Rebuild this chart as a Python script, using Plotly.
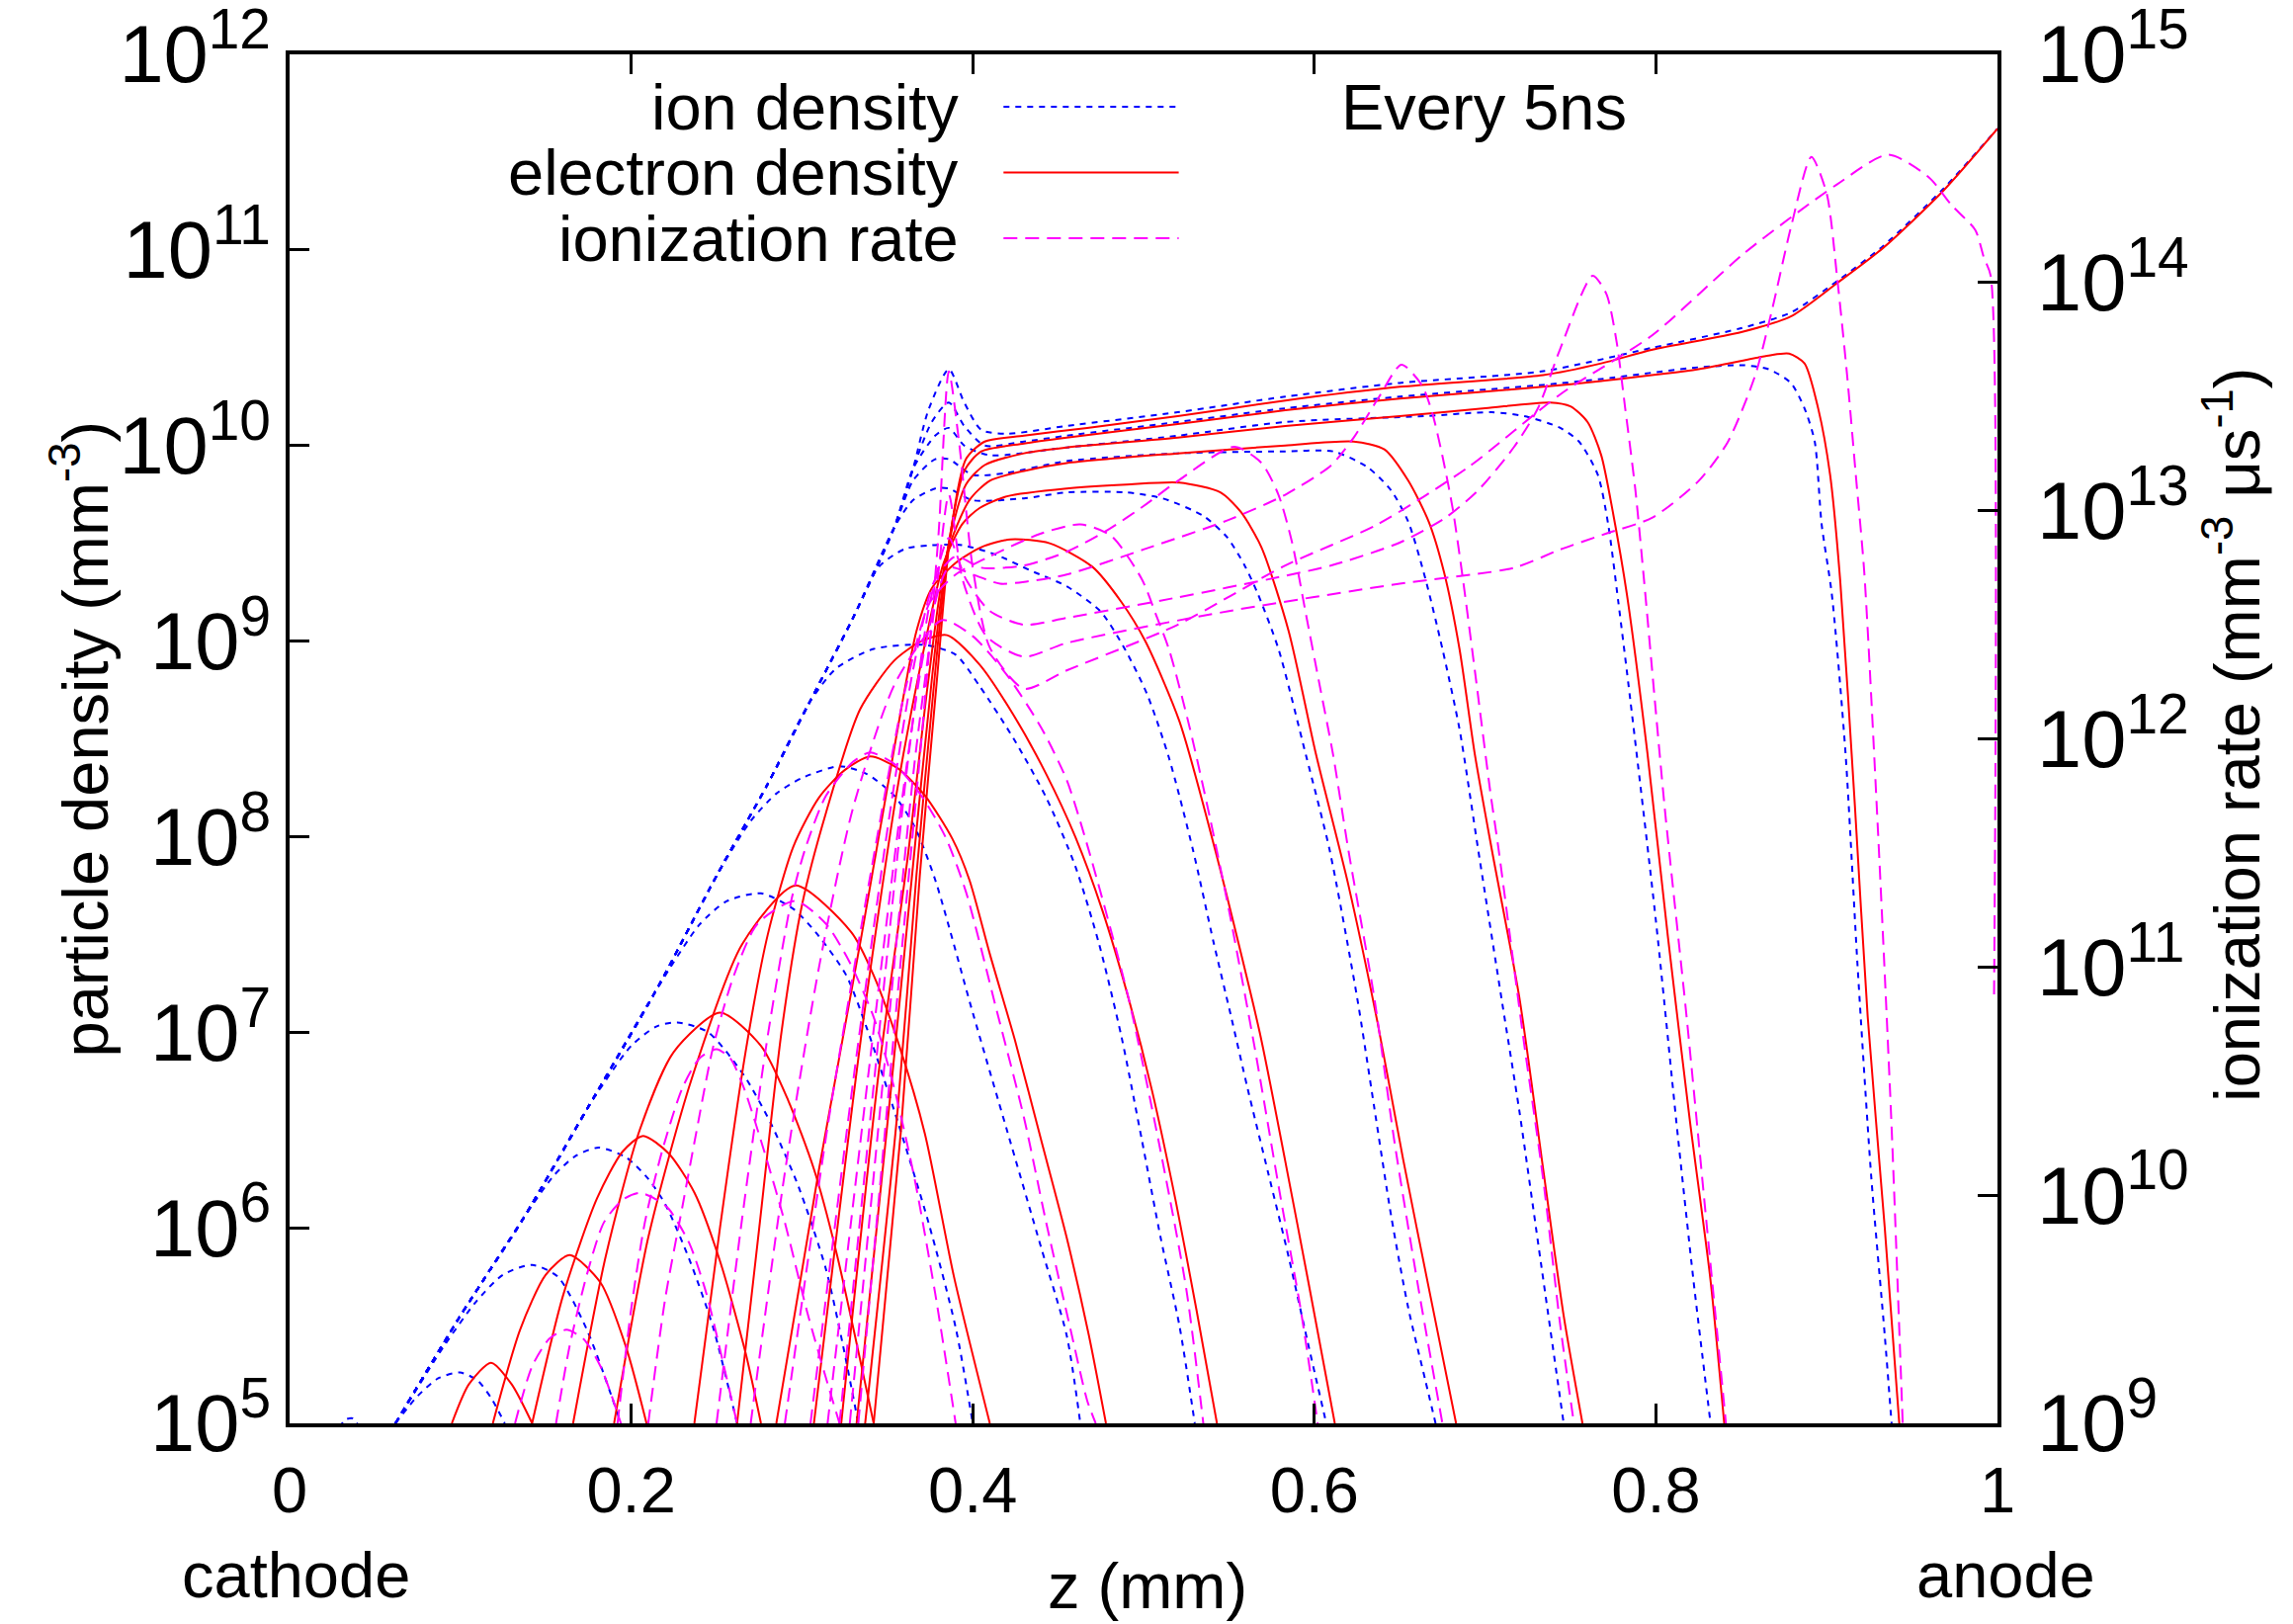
import plotly.graph_objects as go

# ---------------- data: (z in mm, log10 value) ----------------
# snapshots every 5 ns
times_ns = [5, 10, 15, 20, 25, 30, 35, 40, 45, 50, 55, 60, 65]

# electron density (mm^-3), log10
electron_05 = [(0.095,5.0),(0.105,5.2),(0.118,5.31),(0.130,5.2),(0.142,5.0)]
electron_10 = [(0.119,5.0),(0.135,5.48),(0.150,5.76),(0.164,5.86),(0.182,5.72),(0.197,5.39),(0.209,5.0)]
electron_15 = [(0.142,5.0),(0.160,5.65),(0.180,6.15),(0.195,6.39),(0.207,6.47),(0.222,6.38),(0.237,6.18),(0.252,5.83),(0.267,5.36),(0.276,5.0)]
electron_20 = [(0.166,5.0),(0.185,5.85),(0.205,6.5),(0.225,6.9),(0.252,7.10),(0.276,6.93),(0.292,6.65),(0.307,6.30),(0.320,5.88),(0.342,5.0)]
electron_25 = [(0.19,5.0),(0.21,5.95),(0.235,6.75),(0.265,7.45),(0.296,7.75),(0.329,7.51),(0.342,7.29),(0.357,6.93),(0.372,6.48),(0.389,5.75),(0.41,5.0)]
electron_30 = [(0.237,5.0),(0.252,6.0),(0.267,6.9),(0.28,7.5),(0.295,7.95),(0.31,8.2),(0.325,8.34),(0.34,8.41),(0.356,8.35),(0.372,8.21),(0.388,7.99),(0.398,7.78),(0.41,7.4),(0.425,6.95),(0.44,6.45),(0.455,5.95),(0.468,5.45),(0.478,5.0)]
electron_35 = [(0.262,5.0),(0.275,6.0),(0.288,7.0),(0.30,7.65),(0.314,8.12),(0.334,8.65),(0.354,8.90),(0.37,9.0),(0.385,9.03),(0.404,8.88),(0.424,8.62),(0.443,8.32),(0.46,8.0),(0.476,7.62),(0.491,7.18),(0.505,6.7),(0.519,6.13),(0.531,5.58),(0.543,5.0)]
electron_40 = [(0.285,5.0),(0.31,6.3),(0.335,7.5),(0.355,8.5),(0.367,9.05),(0.376,9.27),(0.39,9.4),(0.405,9.48),(0.422,9.52),(0.445,9.5),(0.47,9.38),(0.487,9.2),(0.501,9.0),(0.521,8.59),(0.542,7.93),(0.568,7.0),(0.583,6.34),(0.597,5.7),(0.612,5.0)]
electron_45 = [(0.307,5.0),(0.335,7.0),(0.355,8.2),(0.37,8.9),(0.383,9.4),(0.394,9.6),(0.404,9.68),(0.42,9.74),(0.455,9.78),(0.49,9.80),(0.521,9.81),(0.545,9.76),(0.557,9.66),(0.569,9.48),(0.585,9.05),(0.601,8.42),(0.62,7.75),(0.637,7.05),(0.652,6.35),(0.668,5.65),(0.683,5.0)]
electron_50 = [(0.323,5.0),(0.345,6.8),(0.362,7.9),(0.374,8.8),(0.385,9.45),(0.398,9.72),(0.41,9.82),(0.43,9.87),(0.455,9.91),(0.52,9.96),(0.583,10.0),(0.623,10.02),(0.641,9.98),(0.655,9.82),(0.667,9.61),(0.676,9.35),(0.685,8.96),(0.694,8.42),(0.704,7.93),(0.72,7.18),(0.734,6.3),(0.746,5.55),(0.757,5.0)]
electron_55 = [(0.332,5.0),(0.352,6.7),(0.365,7.85),(0.376,8.8),(0.386,9.5),(0.396,9.8),(0.407,9.9),(0.43,9.96),(0.455,9.99),(0.52,10.04),(0.583,10.10),(0.65,10.15),(0.70,10.19),(0.738,10.22),(0.750,10.20),(0.760,10.12),(0.768,9.95),(0.775,9.65),(0.783,9.24),(0.795,8.43),(0.807,7.49),(0.82,6.54),(0.832,5.73),(0.840,5.0)]
electron_60 = [(0.337,5.0),(0.356,6.6),(0.367,7.8),(0.377,8.75),(0.386,9.5),(0.395,9.87),(0.405,9.97),(0.43,10.01),(0.455,10.04),(0.52,10.11),(0.583,10.18),(0.65,10.24),(0.734,10.30),(0.768,10.33),(0.825,10.39),(0.866,10.46),(0.878,10.47),(0.887,10.42),(0.895,10.19),(0.902,9.85),(0.908,9.3),(0.9165,8.16),(0.924,7.08),(0.934,6.0),(0.9425,5.0)]
electron_65 = [(0.342,5.0),(0.358,6.5),(0.369,7.8),(0.379,8.8),(0.387,9.55),(0.396,9.93),(0.407,10.02),(0.43,10.05),(0.467,10.09),(0.52,10.15),(0.583,10.23),(0.65,10.3),(0.734,10.36),(0.768,10.42),(0.798,10.49),(0.85,10.58),(0.879,10.66),(0.906,10.83),(0.933,11.01),(0.968,11.30),(1.0,11.62)]

# ion density (mm^-3), log10 ; common cathode-side rise shared by the snapshots
ion_envelope = [(0.062,5.0),(0.10,5.55),(0.137,6.05),(0.175,6.62),(0.215,7.22),(0.25,7.8),(0.28,8.27),(0.304,8.68),(0.33,9.12),(0.354,9.58),(0.365,9.88),(0.374,10.18)]
ion_00 = [(0.029,4.98),(0.033,5.02),(0.037,5.025),(0.041,4.98)]
ion_05 = [(0.062,5.0),(0.075,5.14),(0.087,5.23),(0.0997,5.26),(0.11,5.22),(0.118,5.13),(0.126,5.0)]
ion_10 = [(0.062,5.0),(0.09,5.39),(0.109,5.62),(0.125,5.76),(0.142,5.81),(0.157,5.75),(0.174,5.48),(0.194,5.0)]
ion_15 = ion_envelope[:3] + [(0.155,6.27),(0.168,6.37),(0.181,6.41),(0.197,6.36),(0.21,6.25),(0.22,6.12),(0.234,5.84),(0.248,5.49),(0.262,5.0)]
ion_20 = ion_envelope[:4] + [(0.20,6.93),(0.215,7.03),(0.227,7.05),(0.245,7.0),(0.266,6.78),(0.282,6.53),(0.298,6.21),(0.314,5.79),(0.324,5.4),(0.333,5.0)]
ion_25 = ion_envelope[:5] + [(0.24,7.55),(0.256,7.67),(0.276,7.71),(0.295,7.63),(0.31,7.49),(0.326,7.29),(0.338,7.02),(0.354,6.6),(0.374,6.03),(0.39,5.49),(0.40,5.0)]
ion_30 = ion_envelope[:6] + [(0.27,8.08),(0.285,8.22),(0.30,8.3),(0.322,8.36),(0.338,8.32),(0.354,8.21),(0.366,8.05),(0.378,7.78),(0.40,7.1),(0.42,6.5),(0.44,5.9),(0.455,5.45),(0.463,5.0)]
ion_35 = ion_envelope[:8] + [(0.32,8.86),(0.342,8.96),(0.372,8.98),(0.39,8.93),(0.404,8.77),(0.424,8.50),(0.443,8.2),(0.46,7.85),(0.474,7.45),(0.487,6.98),(0.499,6.45),(0.51,5.95),(0.521,5.5),(0.53,5.0)]
ion_40 = ion_envelope[:9] + [(0.345,9.38),(0.36,9.47),(0.375,9.49),(0.394,9.49),(0.414,9.44),(0.434,9.36),(0.455,9.28),(0.475,9.15),(0.489,8.96),(0.502,8.73),(0.515,8.4),(0.529,7.93),(0.541,7.46),(0.551,7.09),(0.561,6.71),(0.573,6.28),(0.585,5.85),(0.596,5.42),(0.607,5.0)]
ion_45 = ion_envelope[:10] + [(0.365,9.72),(0.378,9.78),(0.386,9.78),(0.40,9.72),(0.43,9.73),(0.455,9.76),(0.49,9.76),(0.511,9.73),(0.535,9.64),(0.549,9.53),(0.559,9.39),(0.567,9.24),(0.579,8.96),(0.595,8.42),(0.609,7.93),(0.625,7.18),(0.635,6.62),(0.645,6.06),(0.655,5.59),(0.665,5.22),(0.671,5.0)]
ion_50 = ion_envelope[:10] + [(0.365,9.82),(0.378,9.93),(0.386,9.93),(0.40,9.85),(0.42,9.86),(0.455,9.92),(0.52,9.96),(0.583,9.97),(0.611,9.97),(0.631,9.89),(0.645,9.77),(0.655,9.61),(0.665,9.32),(0.675,8.96),(0.685,8.55),(0.696,7.93),(0.71,7.15),(0.72,6.6),(0.733,5.8),(0.746,5.0)]
ion_55 = ion_envelope[:11] + [(0.378,10.05),(0.386,10.09),(0.395,10.0),(0.41,9.95),(0.455,9.99),(0.52,10.05),(0.583,10.12),(0.664,10.15),(0.704,10.17),(0.723,10.15),(0.744,10.09),(0.755,10.02),(0.766,9.85),(0.772,9.6),(0.778,9.2),(0.785,8.70),(0.80,7.57),(0.812,6.54),(0.822,5.73),(0.832,5.0)]
ion_60 = ion_envelope[:11] + [(0.376,10.12),(0.386,10.22),(0.395,10.1),(0.407,10.0),(0.43,10.02),(0.455,10.05),(0.52,10.12),(0.583,10.19),(0.65,10.25),(0.734,10.31),(0.768,10.34),(0.825,10.40),(0.852,10.41),(0.866,10.39),(0.879,10.32),(0.887,10.19),(0.893,10.02),(0.897,9.6),(0.903,9.24),(0.911,8.43),(0.918,7.35),(0.926,6.27),(0.934,5.45),(0.938,5.0)]
ion_65 = ion_envelope + [(0.386,10.39),(0.395,10.22),(0.405,10.08),(0.42,10.06),(0.455,10.1),(0.52,10.17),(0.583,10.25),(0.65,10.32),(0.734,10.38),(0.798,10.5),(0.85,10.6),(0.879,10.68),(0.906,10.84),(0.933,11.02),(0.968,11.31),(1.0,11.62)]

# ionization rate (mm^-3 us^-1), log10 (right axis)
rate_10 = [(0.132,9.0),(0.142,9.25),(0.152,9.37),(0.162,9.41),(0.172,9.37),(0.182,9.25),(0.194,9.0)]
rate_15 = [(0.156,9.0),(0.164,9.34),(0.174,9.65),(0.184,9.88),(0.195,9.98),(0.205,10.01),(0.215,9.98),(0.222,9.94),(0.234,9.79),(0.244,9.57),(0.254,9.26),(0.262,9.0)]
rate_20 = [(0.192,9.0),(0.200,9.5),(0.208,9.88),(0.218,10.19),(0.23,10.47),(0.24,10.6),(0.25,10.64),(0.258,10.6),(0.266,10.47),(0.278,10.19),(0.29,9.88),(0.303,9.49),(0.314,9.2),(0.322,9.0)]
rate_25 = [(0.21,9.0),(0.22,9.55),(0.23,9.95),(0.238,10.27),(0.248,10.65),(0.26,10.96),(0.274,11.19),(0.296,11.29),(0.314,11.19),(0.328,11.02),(0.342,10.78),(0.354,10.47),(0.366,10.07),(0.378,9.57),(0.39,9.0)]
rate_30 = [(0.25,9.0),(0.265,9.9),(0.28,10.7),(0.294,11.3),(0.302,11.52),(0.314,11.75),(0.33,11.9),(0.34,11.94),(0.354,11.89),(0.37,11.75),(0.384,11.57),(0.396,11.33),(0.414,10.81),(0.43,10.34),(0.443,9.88),(0.457,9.42),(0.467,9.1),(0.472,9.0)]
rate_35 = [(0.27,9.0),(0.29,10.1),(0.31,11.0),(0.33,11.7),(0.355,12.25),(0.382,12.52),(0.40,12.45),(0.42,12.28),(0.44,12.05),(0.455,11.82),(0.468,11.51),(0.491,10.87),(0.509,10.23),(0.525,9.59),(0.535,9.0)]
rate_40 = [(0.29,9.0),(0.315,10.3),(0.34,11.4),(0.36,12.2),(0.375,12.6),(0.39,12.72),(0.41,12.8),(0.44,12.9),(0.463,12.94),(0.481,12.89),(0.499,12.70),(0.507,12.55),(0.515,12.39),(0.527,12.05),(0.539,11.65),(0.55,11.25),(0.565,10.65),(0.58,10.0),(0.592,9.5),(0.602,9.0)]
rate_45 = [(0.305,9.0),(0.33,10.5),(0.35,11.6),(0.365,12.3),(0.378,12.7),(0.39,12.8),(0.405,12.75),(0.43,12.76),(0.455,12.82),(0.48,12.92),(0.50,13.02),(0.52,13.13),(0.553,13.28),(0.569,13.21),(0.579,13.07),(0.587,12.86),(0.595,12.55),(0.603,12.24),(0.611,11.93),(0.62,11.51),(0.635,10.87),(0.647,10.23),(0.661,9.59),(0.675,9.0)]
rate_50 = [(0.315,9.0),(0.34,10.6),(0.358,11.7),(0.372,12.4),(0.386,12.75),(0.40,12.72),(0.416,12.68),(0.432,12.69),(0.455,12.72),(0.50,12.83),(0.55,12.96),(0.583,13.07),(0.61,13.2),(0.623,13.32),(0.638,13.5),(0.651,13.64),(0.663,13.55),(0.669,13.43),(0.675,13.24),(0.681,13.01),(0.687,12.70),(0.695,12.24),(0.703,11.77),(0.708,11.51),(0.722,10.71),(0.734,10.07),(0.744,9.43),(0.752,9.0)]
rate_55 = [(0.322,9.0),(0.345,10.7),(0.362,11.9),(0.375,12.6),(0.386,12.88),(0.396,12.7),(0.41,12.56),(0.43,12.5),(0.455,12.53),(0.52,12.62),(0.58,12.71),(0.61,12.76),(0.65,12.86),(0.677,12.97),(0.696,13.09),(0.717,13.28),(0.731,13.45),(0.744,13.71),(0.763,14.03),(0.771,13.95),(0.777,13.74),(0.782,13.45),(0.788,13.09),(0.793,12.7),(0.805,11.71),(0.818,10.78),(0.83,9.85),(0.841,9.0)]
rate_60 = [(0.328,9.0),(0.35,10.7),(0.366,11.9),(0.378,12.6),(0.386,13.07),(0.394,12.7),(0.408,12.45),(0.43,12.36),(0.455,12.42),(0.55,12.56),(0.65,12.68),(0.717,12.75),(0.744,12.83),(0.771,12.90),(0.798,12.97),(0.825,13.13),(0.842,13.30),(0.858,13.59),(0.868,13.88),(0.879,14.24),(0.891,14.55),(0.90,14.39),(0.906,14.03),(0.912,13.59),(0.917,13.16),(0.922,12.73),(0.93,11.6),(0.938,10.3),(0.9445,9.0)]
rate_65 = [(0.333,9.0),(0.355,10.8),(0.37,12.0),(0.38,12.9),(0.386,13.61),(0.392,13.3),(0.40,12.75),(0.41,12.4),(0.43,12.22),(0.455,12.30),(0.52,12.5),(0.583,12.76),(0.637,12.94),(0.69,13.19),(0.744,13.51),(0.798,13.77),(0.852,14.13),(0.906,14.43),(0.936,14.56),(0.96,14.46),(0.973,14.34),(0.987,14.23),(0.992,14.11),(0.996,14.03),(0.998,10.88)]

electron_curves = [electron_05, electron_10, electron_15, electron_20, electron_25, electron_30, electron_35,
                   electron_40, electron_45, electron_50, electron_55, electron_60, electron_65]
ion_curves = [ion_00, ion_05, ion_10, ion_15, ion_20, ion_25, ion_30, ion_35, ion_40, ion_45, ion_50, ion_55, ion_60, ion_65]
rate_curves = [rate_10, rate_15, rate_20, rate_25, rate_30, rate_35, rate_40, rate_45, rate_50, rate_55, rate_60, rate_65]

# ---------------- styling ----------------
FONT = "Liberation Sans, Arial, Helvetica, sans-serif"
FS = 65
BLUE = "#0000ff"
RED = "#ff0000"
MAGENTA = "#ff00ff"
ION_DASH = "6px,6px"
RATE_DASH = "14px,8px"

fig = go.Figure()

def add(curve, color, dash, axis):
    fig.add_trace(go.Scatter(
        x=[p[0] for p in curve], y=[10 ** p[1] for p in curve],
        mode="lines", yaxis=axis, showlegend=False, hoverinfo="skip",
        line=dict(color=color, width=2, dash=dash, shape="spline", smoothing=0.7)))

for c in ion_curves:
    add(c, BLUE, ION_DASH, "y")
for c in rate_curves:
    add(c, MAGENTA, RATE_DASH, "y2")
for c in electron_curves:
    add(c, RED, "solid", "y")

axis_common = dict(showgrid=False, zeroline=False, showline=True, linecolor="black", linewidth=4,
                   ticks="inside", ticklen=20, tickwidth=3, tickcolor="black", automargin=False,
                   ticklabeloverflow="allow",
                   tickfont=dict(family=FONT, size=FS, color="black"))

# the page body adds an 8px offset, so the margins are shifted by 8px
fig.update_layout(
    width=2320, height=1643,
    margin=dict(l=285, r=307, t=47, b=211, autoexpand=False),
    paper_bgcolor="white", plot_bgcolor="white",
    font=dict(family=FONT, size=FS, color="black"),
    xaxis=dict(range=[0, 1], dtick=0.2, tick0=0, mirror="ticks", ticklabelstandoff=8, **axis_common),
    yaxis=dict(type="log", range=[5, 12], dtick=1, exponentformat="power", ticklabelstandoff=2, **axis_common),
    yaxis2=dict(type="log", range=[9, 15], dtick=1, exponentformat="power", overlaying="y", side="right",
                ticklabelstandoff=23, **axis_common),
)

ann = []
def text(x, y, s, xanchor="center", textangle=0):
    ann.append(dict(x=x, y=y, xref="paper", yref="paper", text=s, showarrow=False,
                    xanchor=xanchor, yanchor="middle", textangle=textangle,
                    font=dict(family=FONT, size=FS, color="black")))

text(-0.1227, 0.50, "particle density (mm<sup>-3</sup>)", textangle=-90)
text(1.138, 0.503, "ionization rate (mm<sup>-3</sup> \u03bcs<sup>-1</sup>)", textangle=-90)
text(0.5026, -0.119, "z (mm)")
text(0.004, -0.111, "cathode")
text(1.005, -0.111, "anode")
text(0.6995, 0.9617, "Every 5ns")

legend_rows = [("ion density", BLUE, ION_DASH, 0.9617),
               ("electron density", RED, "solid", 0.9137),
               ("ionization rate", MAGENTA, RATE_DASH, 0.8657)]
shapes = []
for label, color, dash, yy in legend_rows:
    text(0.393, yy, label, xanchor="right")
    shapes.append(dict(type="line", xref="paper", yref="paper", x0=0.418, x1=0.5206, y0=yy, y1=yy,
                       line=dict(color=color, width=2, dash=dash)))

fig.update_layout(annotations=ann, shapes=shapes)
fig.write_html("out.html")
